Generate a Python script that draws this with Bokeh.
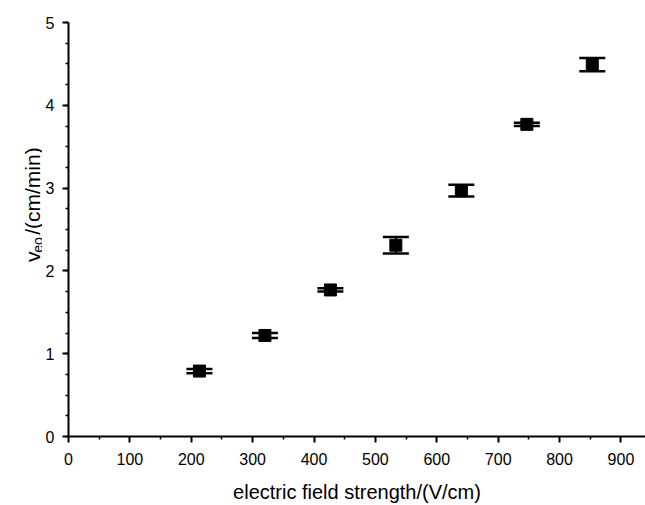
import math
from bokeh.plotting import figure
from bokeh.layouts import row
from bokeh.models import ColumnDataSource, Whisker, TeeHead, Range1d, FixedTicker
from bokeh.core.properties import value
from bokeh.embed import file_html
from bokeh.resources import INLINE

# data
field = [213.3, 320.0, 426.7, 533.3, 640.0, 746.7, 853.3]
veo = [0.79, 1.22, 1.77, 2.31, 2.97, 3.77, 4.49]
err = [0.025, 0.03, 0.02, 0.10, 0.07, 0.02, 0.08]
x_ticks = [0, 100, 200, 300, 400, 500, 600, 700, 800, 900]
y_ticks = [0, 1, 2, 3, 4, 5]
y_label_parts = ["v", "eo", "/(cm/min)"]
x_label = "electric field strength/(V/cm)"

src = ColumnDataSource(dict(
    x=field, y=veo,
    lower=[v - e for v, e in zip(veo, err)],
    upper=[v + e for v, e in zip(veo, err)],
))

FONT = "Liberation Sans"
H = 505
LW = 42

# ---- narrow figure holding the rotated y-axis title (with subscript) ----
lab = figure(width=LW, height=H, output_backend="svg", toolbar_location=None, title=None,
             x_axis_location=None, y_axis_location=None,
             x_range=Range1d(0, LW), y_range=Range1d(0, H),
             min_border_left=0, min_border_right=0, min_border_top=0, min_border_bottom=0)
lab.grid.visible = False
lab.outline_line_color = None
ang = math.pi / 2
base_x = 32
v_start = 213
lab.text(x=[base_x], y=[v_start], text=[y_label_parts[0]], angle=ang,
         text_font=value(FONT), text_font_size="21px", text_align="left",
         text_baseline="alphabetic", text_color="black")
lab.text(x=[base_x + 5], y=[v_start + 11], text=[y_label_parts[1]], angle=ang,
         text_font=value(FONT), text_font_size="14px", text_align="left",
         text_baseline="alphabetic", text_color="black")
lab.text(x=[base_x], y=[v_start + 33], text=[y_label_parts[2]], angle=ang,
         text_font=value(FONT), text_font_size="21px", text_align="left",
         text_baseline="alphabetic", text_color="black")

# ---- main plot ----
p = figure(width=645 - LW, height=H, output_backend="svg", toolbar_location=None,
           x_range=Range1d(0, 940), y_range=Range1d(0, 5),
           min_border_left=67 - LW, min_border_right=0, min_border_top=22, min_border_bottom=68)
p.outline_line_color = None
p.grid.visible = False

for ax in (p.xaxis[0], p.yaxis[0]):
    ax.axis_line_width = 2
    ax.axis_line_color = "black"
    ax.major_tick_line_width = 2
    ax.minor_tick_line_width = 1.5
    ax.major_tick_out = 6
    ax.major_tick_in = 0
    ax.minor_tick_out = 3
    ax.minor_tick_in = 0
    ax.major_label_text_font = FONT
    ax.major_label_text_font_size = "16px"
    ax.major_label_text_color = "black"

p.xaxis.ticker = FixedTicker(ticks=x_ticks, minor_ticks=[50 + 100 * i for i in range(10)])
p.yaxis.ticker = FixedTicker(ticks=y_ticks, minor_ticks=[i * 0.25 for i in range(21)])
p.xaxis.major_label_standoff = 10
p.yaxis.major_label_standoff = 8
p.xaxis.axis_label = x_label
p.xaxis.axis_label_text_font = FONT
p.xaxis.axis_label_text_font_style = "normal"
p.xaxis.axis_label_text_font_size = "20px"
p.xaxis.axis_label_text_color = "black"
p.xaxis.axis_label_standoff = 13

p.add_layout(Whisker(source=src, base="x", lower="lower", upper="upper",
                     line_color="black", line_width=2,
                     upper_head=TeeHead(size=26, line_width=2.5, line_color="black"),
                     lower_head=TeeHead(size=26, line_width=2.5, line_color="black")))
p.scatter("x", "y", source=src, marker="square", size=12, color="black")

layout = row(lab, p, spacing=0)
open("out.html", "w").write(file_html(layout, INLINE))
